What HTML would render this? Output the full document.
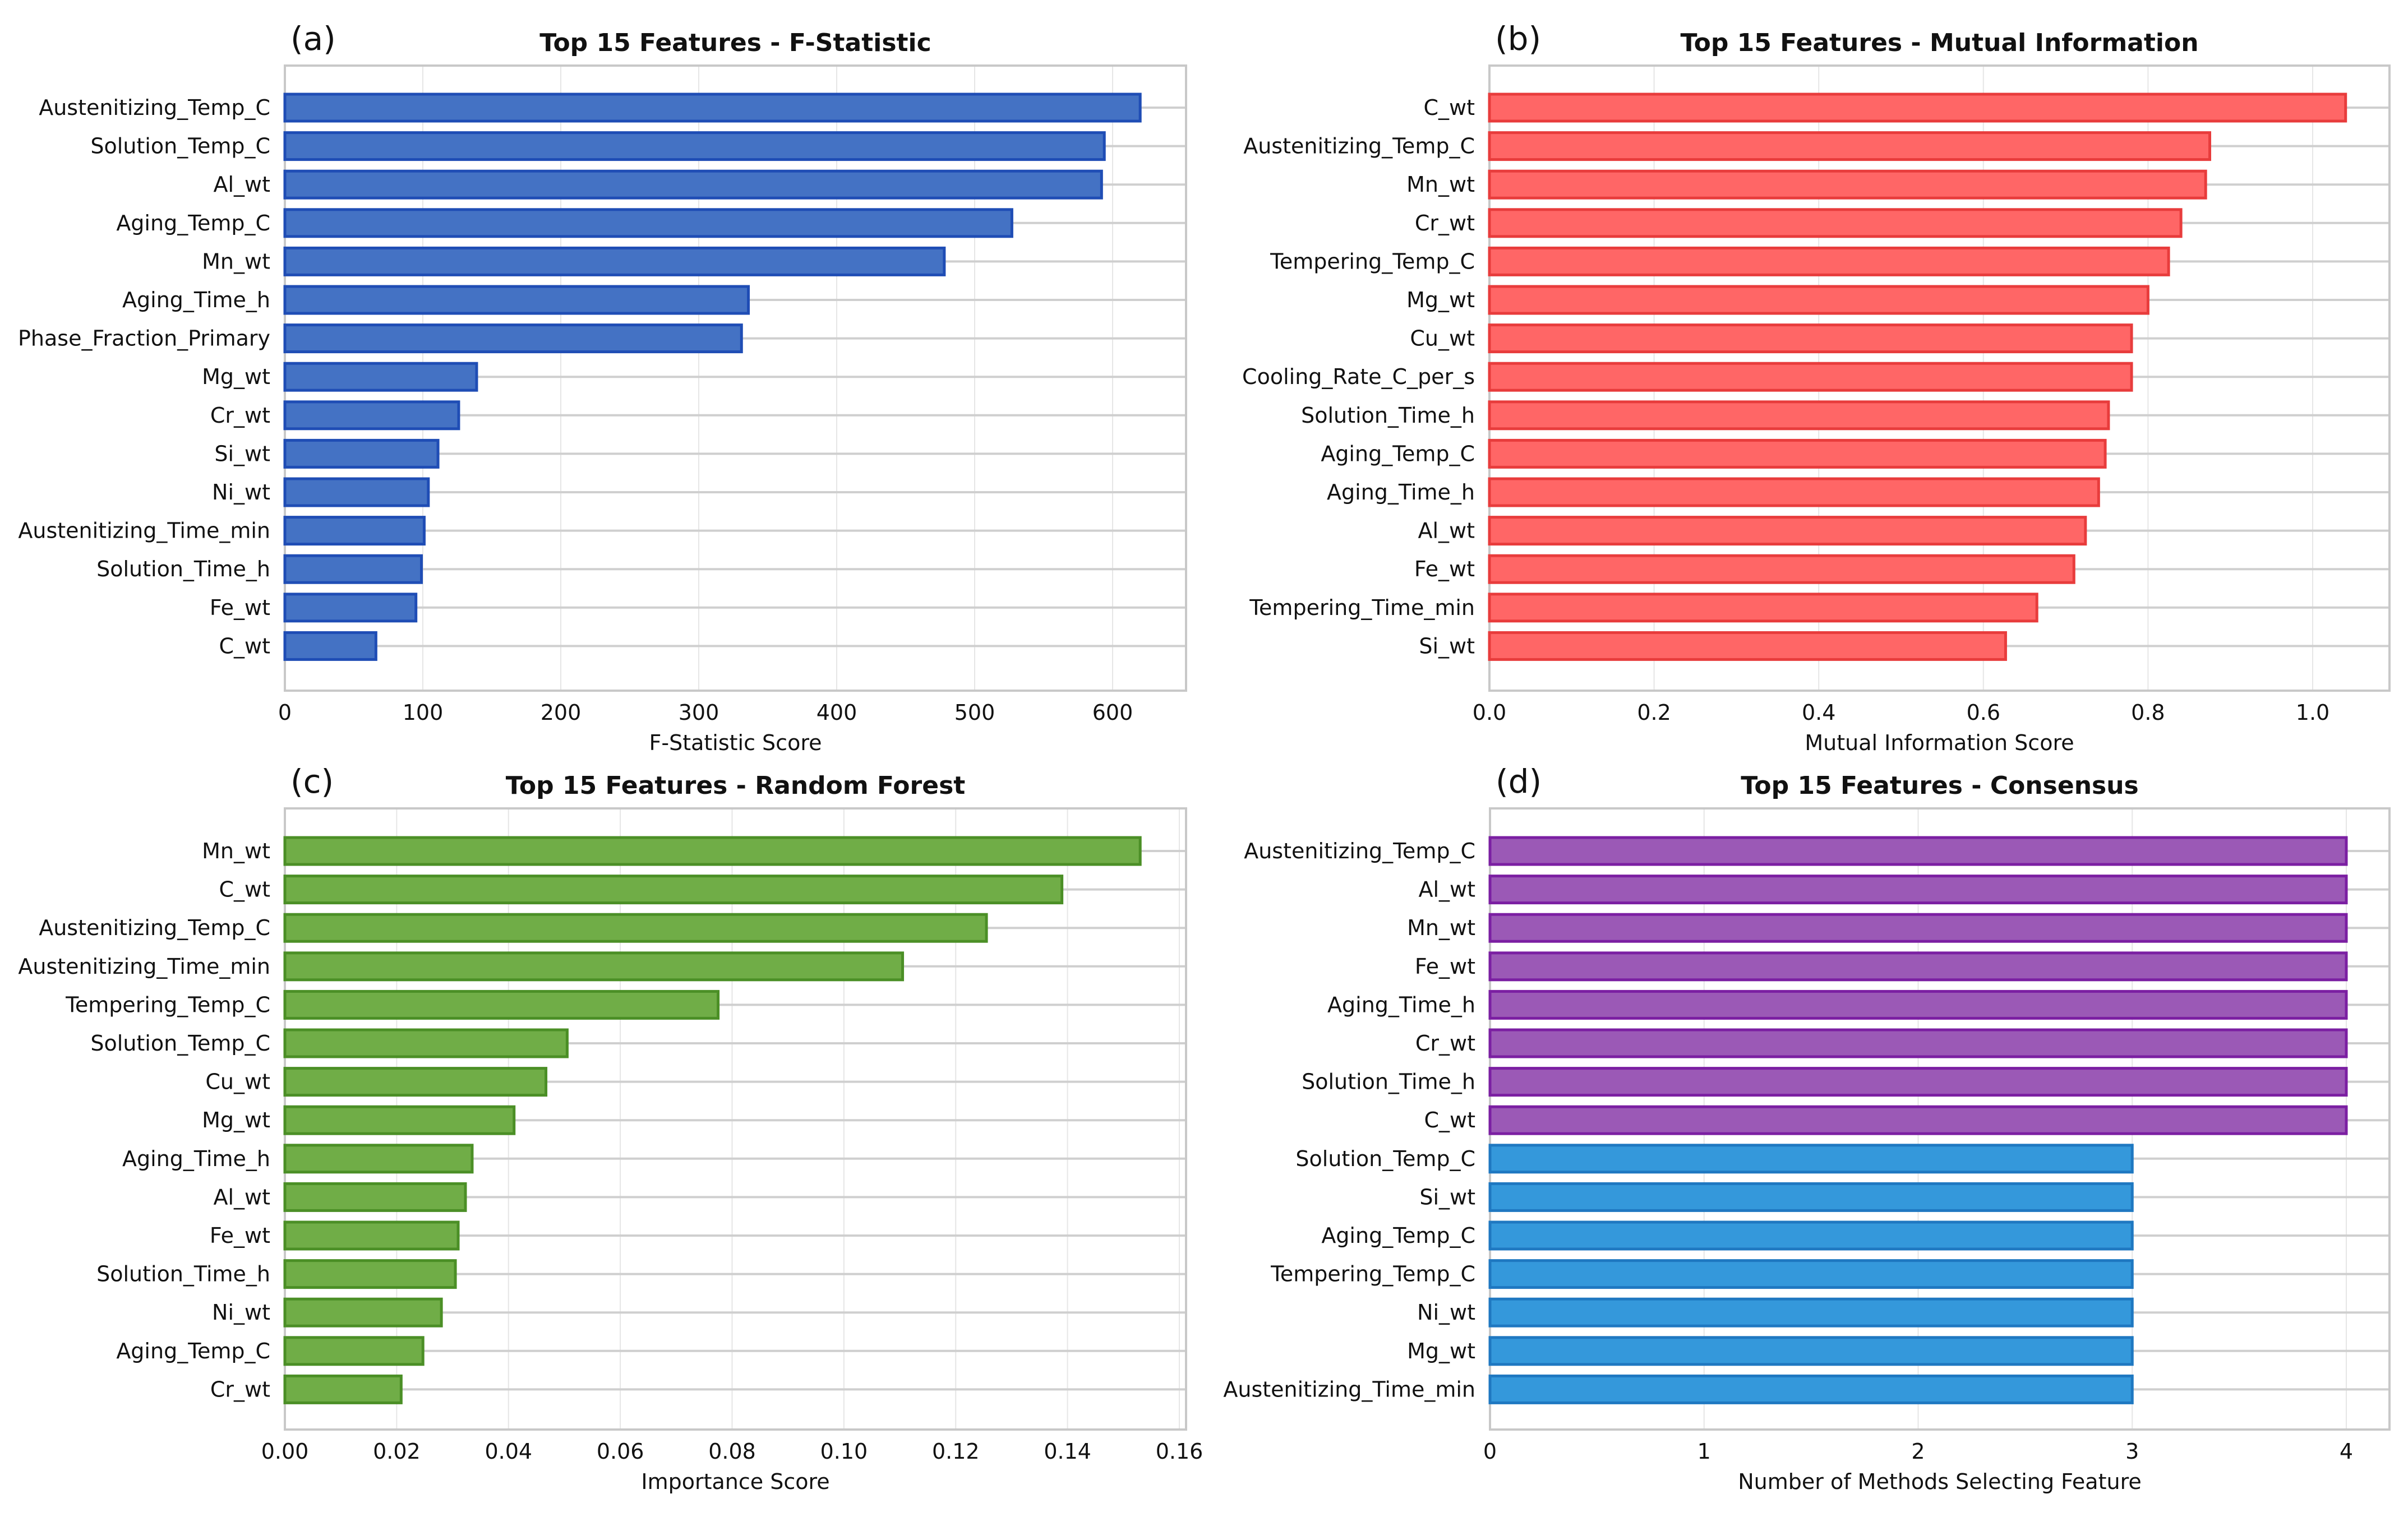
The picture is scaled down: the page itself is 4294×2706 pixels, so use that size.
<!DOCTYPE html>
<html><head><meta charset="utf-8"><style>
html,body{margin:0;padding:0;background:#fff;}
svg{display:block;font-family:"DejaVu Sans","Liberation Sans",sans-serif;}
</style></head><body>
<svg id="fig" width="4294" height="2706" viewBox="0 0 4294 2706" xmlns="http://www.w3.org/2000/svg"></svg>
<script>
const aLabels = ["Austenitizing_Temp_C","Solution_Temp_C","Al_wt","Aging_Temp_C","Mn_wt","Aging_Time_h","Phase_Fraction_Primary","Mg_wt","Cr_wt","Si_wt","Ni_wt","Austenitizing_Time_min","Solution_Time_h","Fe_wt","C_wt"];
const aValues = [620,594,592,527,478,336,331,139,126,111,104,101,99,95,66];
const aTicks = [0,100,200,300,400,500,600];
const aTickLabels = ["0","100","200","300","400","500","600"];

const bLabels = ["C_wt","Austenitizing_Temp_C","Mn_wt","Cr_wt","Tempering_Temp_C","Mg_wt","Cu_wt","Cooling_Rate_C_per_s","Solution_Time_h","Aging_Temp_C","Aging_Time_h","Al_wt","Fe_wt","Tempering_Time_min","Si_wt"];
const bValues = [1.04,0.875,0.87,0.84,0.825,0.80,0.78,0.78,0.752,0.748,0.74,0.724,0.71,0.665,0.627];
const bTicks = [0,0.2,0.4,0.6,0.8,1.0];
const bTickLabels = ["0.0","0.2","0.4","0.6","0.8","1.0"];

const cLabels = ["Mn_wt","C_wt","Austenitizing_Temp_C","Austenitizing_Time_min","Tempering_Temp_C","Solution_Temp_C","Cu_wt","Mg_wt","Aging_Time_h","Al_wt","Fe_wt","Solution_Time_h","Ni_wt","Aging_Temp_C","Cr_wt"];
const cValues = [0.153,0.139,0.1255,0.1105,0.0775,0.0505,0.0467,0.041,0.0335,0.0323,0.031,0.0305,0.028,0.0247,0.0208];
const cTicks = [0,0.02,0.04,0.06,0.08,0.10,0.12,0.14,0.16];
const cTickLabels = ["0.00","0.02","0.04","0.06","0.08","0.10","0.12","0.14","0.16"];

const dLabels = ["Austenitizing_Temp_C","Al_wt","Mn_wt","Fe_wt","Aging_Time_h","Cr_wt","Solution_Time_h","C_wt","Solution_Temp_C","Si_wt","Aging_Temp_C","Tempering_Temp_C","Ni_wt","Mg_wt","Austenitizing_Time_min"];
const dValues = [4,4,4,4,4,4,4,4,3,3,3,3,3,3,3];
const dTicks = [0,1,2,3,4];
const dTickLabels = ["0","1","2","3","4"];

const NS = "http://www.w3.org/2000/svg";
const svg = document.getElementById("fig");
function mk(tag, attrs, parent){
  const e = document.createElementNS(NS, tag);
  for (const k in attrs) e.setAttribute(k, attrs[k]);
  (parent||svg).appendChild(e);
  return e;
}

function panel(cfg){
  const g = mk("g", {});
  
  
  const L = cfg.left, R = cfg.right, T = cfg.top, B = cfg.bottom;
  const xs = v => L + (v - 0) * (cfg.x1px - L) / cfg.x1;
  const ys = i => cfg.firstY + i * cfg.step;
  // vertical grid
  cfg.ticks.forEach((t) => {
    const gl = mk("line", {x1:xs(t), x2:xs(t), y1:T, y2:B, stroke:"#e6e6e6", "stroke-width":2}, g);
    
    
  });
  // horizontal grid at bars
  cfg.labels.forEach((lab, i) => {
    const hl = mk("line", {x1:L, x2:R, y1:ys(i), y2:ys(i), stroke:"#cfcfcf", "stroke-width":4}, g);
    
    
  });
  // frame
  const fr = mk("rect", {x:L, y:T, width:R-L, height:B-T, fill:"none", stroke:"#c8c8c8", "stroke-width":4}, g);
  
  
  // bars
  const bh = 48;
  cfg.values.forEach((v, i) => {
    const col = cfg.colorFn(i, v);
    const r = mk("rect", {x:xs(0), y:ys(i)-bh/2, width:xs(v)-xs(0), height:bh, fill:col[0], stroke:col[1], "stroke-width":5}, g);
    
    
    const t = mk("text", {x:L-26, y:ys(i)+13, "text-anchor":"end", "font-size":38, fill:"#111"}, g);
    t.textContent = cfg.labels[i];
    
    
  });
  // x tick labels
  cfg.ticks.forEach((tv, k) => {
    const t = mk("text", {x:xs(tv), y:B+52, "text-anchor":"middle", "font-size":38, fill:"#111"}, g);
    t.textContent = cfg.tickLabels[k];
    
    
  });
  const xl = mk("text", {x:(L+R)/2, y:B+106, "text-anchor":"middle", "font-size":38, fill:"#111"}, g);
  xl.textContent = cfg.xlabel;
  
  
  const ti = mk("text", {x:(L+R)/2, y:T-26, "text-anchor":"middle", "font-size":44, "font-weight":"bold", fill:"#111"}, g);
  ti.textContent = cfg.title;
  
  
  const pl = mk("text", {x:L+10, y:T-28, "font-size":58, fill:"#111"}, g);
  pl.textContent = cfg.letter;
  
  
}

panel({name:"panel-a-f-statistic", left:508, right:2115, top:117, bottom:1232, firstY:192, step:68.6,
  x1:600, x1px:1984, labels:aLabels, values:aValues, ticks:aTicks, tickLabels:aTickLabels,
  xlabel:"F-Statistic Score", title:"Top 15 Features - F-Statistic", letter:"(a)",
  colorFn:()=>["#4472c4","#1f4db5"]});
panel({name:"panel-b-mutual-information", left:2656, right:4261, top:117, bottom:1232, firstY:192, step:68.6,
  x1:1.0, x1px:4124, labels:bLabels, values:bValues, ticks:bTicks, tickLabels:bTickLabels,
  xlabel:"Mutual Information Score", title:"Top 15 Features - Mutual Information", letter:"(b)",
  colorFn:()=>["#ff6666","#e83c3c"]});
panel({name:"panel-c-random-forest", left:508, right:2115, top:1442, bottom:2550, firstY:1518, step:68.6,
  x1:0.16, x1px:2103, labels:cLabels, values:cValues, ticks:cTicks, tickLabels:cTickLabels,
  xlabel:"Importance Score", title:"Top 15 Features - Random Forest", letter:"(c)",
  colorFn:()=>["#70ad47","#4b8f26"]});
panel({name:"panel-d-consensus", left:2657, right:4261, top:1442, bottom:2550, firstY:1518, step:68.6,
  x1:4, x1px:4184, labels:dLabels, values:dValues, ticks:dTicks, tickLabels:dTickLabels,
  xlabel:"Number of Methods Selecting Feature", title:"Top 15 Features - Consensus", letter:"(d)",
  colorFn:(i,v)=> v>=4 ? ["#9b59b6","#7b1fa2"] : ["#3498db","#1f78c1"]});
</script>
</body></html>
